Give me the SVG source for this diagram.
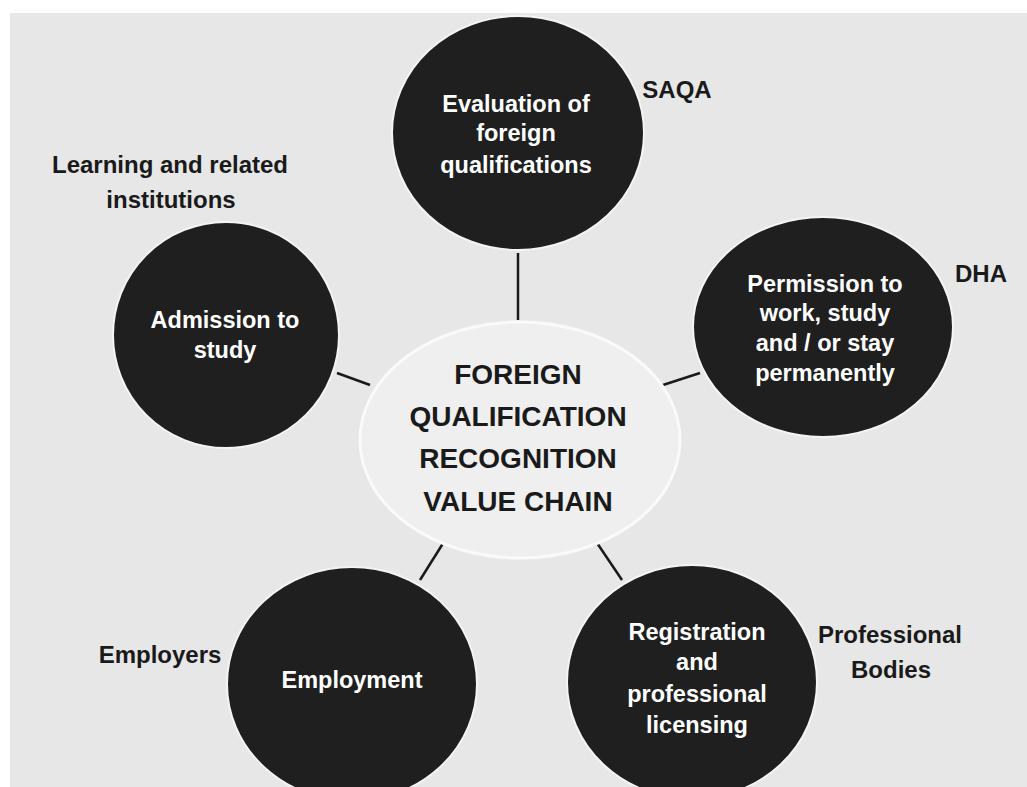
<svg xmlns="http://www.w3.org/2000/svg" width="1027" height="787" viewBox="0 0 1027 787">
  <style>
    .bg { fill: #e7e7e7; }
    .node { fill: #1f1f1f; stroke: #f4f4f4; stroke-width: 2; }
    .hub { fill: #efefef; stroke: #fafafa; stroke-width: 3; }
    .conn { stroke: #1a1a1a; stroke-width: 2.5; fill: none; }
    .nt { font-family: "Liberation Sans", Arial, sans-serif; font-weight: bold; font-size: 23.5px; fill: #ffffff; text-anchor: middle; }
    .lbl { font-family: "Liberation Sans", Arial, sans-serif; font-weight: bold; font-size: 24px; fill: #1a1a1a; text-anchor: middle; }
    .ht { font-family: "Liberation Sans", Arial, sans-serif; font-weight: bold; font-size: 28px; fill: #1a1a1a; text-anchor: middle; }
  </style>
  <rect x="0" y="0" width="1027" height="787" fill="#ffffff"/>
  <rect class="bg" x="10" y="13" width="1017" height="774"/>

  <g id="connectors">
    <line class="conn" x1="518" y1="253" x2="518" y2="320"/>
    <line class="conn" x1="337" y1="373" x2="370" y2="385"/>
    <line class="conn" x1="663" y1="385" x2="700" y2="373"/>
    <line class="conn" x1="447" y1="537" x2="420" y2="580"/>
    <line class="conn" x1="593" y1="537" x2="622" y2="580"/>
  </g>

  <g id="hub">
    <ellipse class="hub" cx="520" cy="440" rx="160" ry="118"/>
    <text class="ht" x="518" y="384">FOREIGN</text>
    <text class="ht" x="518" y="426">QUALIFICATION</text>
    <text class="ht" x="518" y="468">RECOGNITION</text>
    <text class="ht" x="518" y="511">VALUE CHAIN</text>
  </g>

  <g id="evaluation">
    <ellipse class="node" cx="518" cy="133" rx="126" ry="117"/>
    <text class="nt" x="516" y="112">Evaluation of</text>
    <text class="nt" x="516" y="141">foreign</text>
    <text class="nt" x="516" y="173">qualifications</text>
  </g>
  <g id="saqa-label">
    <text class="lbl" x="677" y="98">SAQA</text>
  </g>

  <g id="admission">
    <ellipse class="node" cx="226" cy="335" rx="113" ry="113"/>
    <text class="nt" x="225" y="328">Admission to</text>
    <text class="nt" x="225" y="358">study</text>
  </g>
  <g id="learning-label">
    <text class="lbl" x="170" y="173">Learning and related</text>
    <text class="lbl" x="171" y="208">institutions</text>
  </g>

  <g id="permission">
    <ellipse class="node" cx="823" cy="327" rx="130" ry="110"/>
    <text class="nt" x="825" y="292">Permission to</text>
    <text class="nt" x="825" y="321">work, study</text>
    <text class="nt" x="825" y="351">and / or stay</text>
    <text class="nt" x="825" y="381">permanently</text>
  </g>
  <g id="dha-label">
    <text class="lbl" x="981" y="282">DHA</text>
  </g>

  <g id="employment">
    <ellipse class="node" cx="352" cy="684" rx="125" ry="117"/>
    <text class="nt" x="352" y="688">Employment</text>
  </g>
  <g id="employers-label">
    <text class="lbl" x="160" y="663">Employers</text>
  </g>

  <g id="registration">
    <ellipse class="node" cx="692" cy="682" rx="125" ry="117"/>
    <text class="nt" x="697" y="640">Registration</text>
    <text class="nt" x="697" y="670">and</text>
    <text class="nt" x="697" y="702">professional</text>
    <text class="nt" x="697" y="733">licensing</text>
  </g>
  <g id="bodies-label">
    <text class="lbl" x="890" y="643">Professional</text>
    <text class="lbl" x="891" y="678">Bodies</text>
  </g>
</svg>
